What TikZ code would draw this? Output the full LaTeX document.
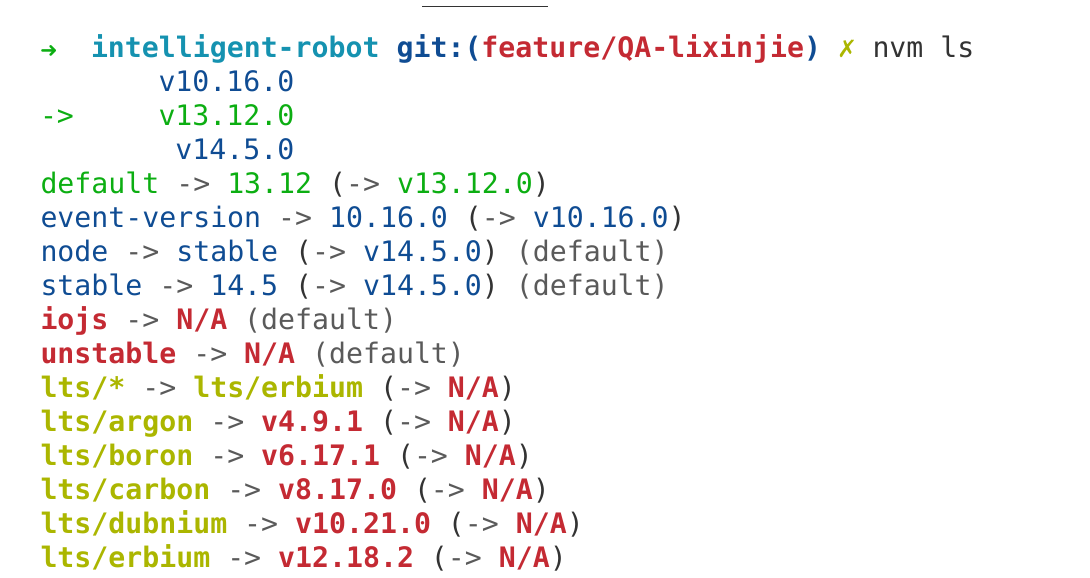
\documentclass[tikz,border=0pt]{standalone}
\usepackage{fontspec}
\newfontfamily\termfont{DejaVu Sans Mono}
\newfontfamily\symfont{DejaVu Sans}
\definecolor{vgreen}{HTML}{0CAE12}
\definecolor{vblue}{HTML}{0F4C93}
\definecolor{vred}{HTML}{C42A33}
\definecolor{volive}{HTML}{ABB600}
\definecolor{vteal}{HTML}{1592B0}
\definecolor{vgrey}{HTML}{5A5A5A}
\definecolor{vdark}{HTML}{333333}
\def\gn#1{\textcolor{vgreen}{#1}}
\def\bl#1{\textcolor{vblue}{#1}}
\def\rd#1{\textcolor{vred}{\bfseries #1}}
\def\ol#1{\textcolor{volive}{\bfseries #1}}
\def\gy#1{\textcolor{vgrey}{#1}}
\def\ar{\gy{->}}
\def\op{\textcolor{vdark}{(}\gy{->}}
\def\cl{\textcolor{vdark}{)}}
\begin{document}
\begin{tikzpicture}[x=1pt,y=1pt,
	term/.style={anchor=base west,inner sep=0pt,outer sep=0pt,text=vdark,
		font=\termfont\fontsize{28.2}{34}\selectfont}]
	%%%%% top rule %%%%%
	\useasboundingbox (0,0) rectangle (1090,578);
	\coordinate (ruleL) at (422,571.5);
	\coordinate (ruleR) at (548,571.5);
	\draw[line width=1.5pt, color=vdark] (ruleL) -- (ruleR);

	%%%%% prompt %%%%%
	\node[term] (arrow) at (40,520) {\textcolor{vgreen}{\symfont\bfseries\fontsize{21}{34}\selectfont ➜}};
	\node[term] (prompt) at (91,520) {\bfseries\textcolor{vteal}{intelligent-robot} \bl{git:(}\textcolor{vred}{feature/QA-lixinjie}\bl{)}};
	\node[term] (cross) at (837,520) {\textcolor{volive}{\symfont\bfseries\fontsize{24}{34}\selectfont ✗}};
	\node[term] (cmd) at (872.5,520) {nvm ls};

	%%%%% versions %%%%%
	\node[term] (ten) at (158.5,486) {\bl{v10.16.0}};
	\node[term] (cur) at (40,452) {\gn{->}};
	\node[term] (thirteen) at (158.5,452) {\gn{v13.12.0}};
	\node[term] (fourteen) at (175.4,418) {\bl{v14.5.0}};

	%%%%% aliases %%%%%
	\node[term] (default) at (40.5,384) {\gn{default} \ar{} \gn{13.12} \op{} \gn{v13.12.0}\cl};
	\node[term] (event) at (40.5,350) {\bl{event-version} \ar{} \bl{10.16.0} \op{} \bl{v10.16.0}\cl};
	\node[term] (nodever) at (40.5,316) {\bl{node} \ar{} \bl{stable} \op{} \bl{v14.5.0}\cl{} \gy{(default)}};
	\node[term] (stable) at (40.5,282) {\bl{stable} \ar{} \bl{14.5} \op{} \bl{v14.5.0}\cl{} \gy{(default)}};
	\node[term] (iojs) at (40.5,248) {\rd{iojs} \ar{} \rd{N/A} \gy{(default)}};
	\node[term] (unstable) at (40.5,214) {\rd{unstable} \ar{} \rd{N/A} \gy{(default)}};

	%%%%% lts %%%%%
	\node[term] (ltsall) at (40.5,180) {\ol{lts/*} \ar{} \ol{lts/erbium} \op{} \rd{N/A}\cl};
	\node[term] (argon) at (40.5,146) {\ol{lts/argon} \ar{} \rd{v4.9.1} \op{} \rd{N/A}\cl};
	\node[term] (boron) at (40.5,112) {\ol{lts/boron} \ar{} \rd{v6.17.1} \op{} \rd{N/A}\cl};
	\node[term] (carbon) at (40.5,78) {\ol{lts/carbon} \ar{} \rd{v8.17.0} \op{} \rd{N/A}\cl};
	\node[term] (dubnium) at (40.5,44) {\ol{lts/dubnium} \ar{} \rd{v10.21.0} \op{} \rd{N/A}\cl};
	\node[term] (erbium) at (40.5,10) {\ol{lts/erbium} \ar{} \rd{v12.18.2} \op{} \rd{N/A}\cl};
\end{tikzpicture}
\end{document}
